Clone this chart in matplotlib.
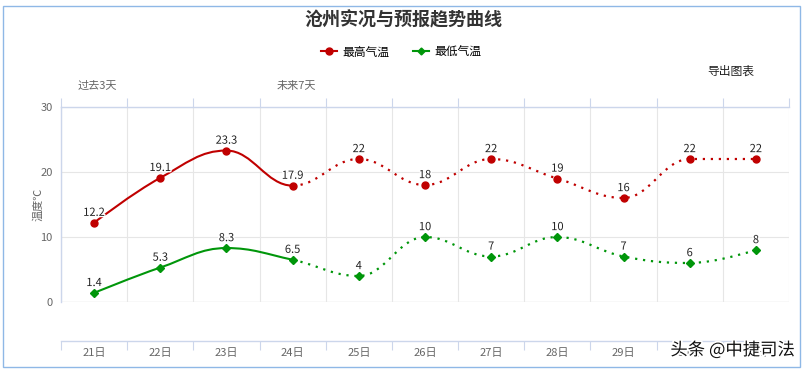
import matplotlib
matplotlib.use("Agg")
import matplotlib.pyplot as plt
import matplotlib.transforms as mtransforms
from matplotlib.path import Path
from matplotlib.patches import PathPatch, Rectangle
from matplotlib.lines import Line2D
import matplotlib.patheffects as pe

plt.rcParams['font.family'] = ['Noto Sans CJK SC', 'DejaVu Sans']

days = ["21日", "22日", "23日", "24日", "25日", "26日", "27日", "28日", "29日", "30日", "31日"]
high_temp = [12.2, 19.1, 23.3, 17.9, 22, 18, 22, 19, 16, 22, 22]
low_temp = [1.4, 5.3, 8.3, 6.5, 4, 10, 7, 10, 7, 6, 8]
high_labels = ["12.2", "19.1", "23.3", "17.9", "22", "18", "22", "19", "16", "22", "22"]
low_labels = ["1.4", "5.3", "8.3", "6.5", "4", "10", "7", "10", "7", "6", "8"]
period_labels = ["过去3天", "未来7天"]
period_start = ["21日", "24日"]
today = "24日"   # observed up to here, forecast afterwards
y_ticks = [0, 10, 20, 30]

RED = "#c00000"
GREEN = "#00960a"
GREY = "#666666"
AXIS = "#ccd6eb"
GRID = "#e6e6e6"


def spline_controls(xs, ys):
    # control points the way Highcharts builds its spline
    n = len(xs)
    left = [(xs[i], ys[i]) for i in range(n)]
    right = [(xs[i], ys[i]) for i in range(n)]
    sm, den = 1.5, 2.5
    for i in range(1, n - 1):
        px, py = xs[i], ys[i]
        lx, ly = xs[i - 1], ys[i - 1]
        nx, ny = xs[i + 1], ys[i + 1]
        lcx, lcy = (sm * px + lx) / den, (sm * py + ly) / den
        rcx, rcy = (sm * px + nx) / den, (sm * py + ny) / den
        corr = 0
        if rcx != lcx:
            corr = (rcy - lcy) * (rcx - px) / (rcx - lcx) + py - rcy
        lcy += corr
        rcy += corr
        if lcy > ly and lcy > py:
            lcy = max(ly, py)
            rcy = 2 * py - lcy
        elif lcy < ly and lcy < py:
            lcy = min(ly, py)
            rcy = 2 * py - lcy
        if rcy > ny and rcy > py:
            rcy = max(ny, py)
            lcy = 2 * py - rcy
        elif rcy < ny and rcy < py:
            rcy = min(ny, py)
            lcy = 2 * py - rcy
        left[i] = (lcx, lcy)
        right[i] = (rcx, rcy)
    return left, right


def spline_part(xs, ys, i0, i1):
    left, right = spline_controls(xs, ys)
    verts = [(xs[i0], ys[i0])]
    codes = [Path.MOVETO]
    for i in range(i0 + 1, i1 + 1):
        verts += [right[i - 1], left[i], (xs[i], ys[i])]
        codes += [Path.CURVE4] * 3
    return Path(verts, codes)


fig = plt.figure(figsize=(8.07, 3.71), dpi=100)
ax = fig.add_axes([61 / 807, 1 - 302 / 371, 728 / 807, 195 / 371])

xs = list(range(len(days)))
split = days.index(today)

for vals, lbls, col, mk, ms in [(high_temp, high_labels, RED, "o", 5),
                                (low_temp, low_labels, GREEN, "D", 4)]:
    solid = spline_part(xs, vals, 0, split)
    dotted = spline_part(xs, vals, split, len(xs) - 1)
    ax.add_patch(PathPatch(solid, fill=False, edgecolor=col, lw=1.5, zorder=3))
    ax.add_patch(PathPatch(dotted, fill=False, edgecolor=col, lw=1.6,
                           linestyle=(0, (1, 2.6)), zorder=3))
    ax.plot(xs, vals, ls="none", marker=mk, ms=ms, color=col, zorder=4, clip_on=False)
    for x, v, t in zip(xs, vals, lbls):
        ax.annotate(t, (x, v), xytext=(0, 3.5), textcoords="offset points",
                    ha="center", va="bottom", fontsize=8, color="#222222", zorder=5,
                    path_effects=[pe.withStroke(linewidth=2, foreground="white")])

ax.set_xlim(-0.5, len(days) - 0.5)
ax.set_ylim(0, 30)
ax.set_yticks(y_ticks)
ax.tick_params(axis="y", length=0, pad=6, labelsize=8, labelcolor=GREY)

# category boundaries get grid lines and ticks, centres get the labels
bounds = [i - 0.5 for i in range(len(days) + 1)]
ax.set_xticks(bounds)
ax.set_xticklabels([])
ax.set_xticks(xs, minor=True)
ax.set_xticklabels(days, minor=True)
ax.tick_params(axis="x", which="major", length=6.5, color=AXIS, top=True, bottom=True,
               direction="out")
ax.tick_params(axis="x", which="minor", length=0, pad=5, labelsize=8, labelcolor=GREY)
ax.grid(True, which="major", color=GRID, lw=0.8)

ax.spines["bottom"].set_position(("outward", 28))
for s in ["bottom", "top", "left"]:
    ax.spines[s].set_color(AXIS)
    ax.spines[s].set_linewidth(1)
ax.spines["right"].set_visible(False)
ax.axhline(0, color=GRID, lw=1, zorder=1)

ax.set_ylabel("温度℃", fontsize=8, color=GREY, va="center")
ax.yaxis.set_label_coords(-23 / 728, 0.5)

# period labels sit above the top ticks
above = ax.get_xaxis_transform() + mtransforms.ScaledTranslation(0, 16 / 100, fig.dpi_scale_trans)
for lab, start in zip(period_labels, period_start):
    ax.text(days.index(start) + 0.05, 1.0, lab, transform=above,
            ha="center", va="bottom", fontsize=8, color=GREY)

fig.text(403 / 807, 1 - 20 / 371, "沧州实况与预报趋势曲线", ha="center", va="center",
         fontsize=13, fontweight="bold", color="#333333")

handles = [Line2D([], [], color=RED, lw=1.5, marker="o", ms=5),
           Line2D([], [], color=GREEN, lw=1.5, marker="D", ms=3.5)]
fig.legend(handles, ["最高气温", "最低气温"], loc="center", ncol=2,
           bbox_to_anchor=(401 / 807, 1 - 52 / 371), frameon=False, fontsize=8.5,
           handlelength=1.4, handletextpad=0.4, columnspacing=2.0)

fig.text(731 / 807, 1 - 71 / 371, "导出图表", ha="center", va="center",
         fontsize=8.5, color="#222222")

# watermark covering the last two day labels, as in the source image
fig.text(795 / 807, 21 / 371, "头条 @中捷司法", ha="right", va="center", fontsize=12.5,
         color="#111111", zorder=10,
         path_effects=[pe.withStroke(linewidth=2.5, foreground="white")])

fig.patches.append(Rectangle((3 / 807, 1 - 367 / 371), 797 / 807, 361 / 371,
                             transform=fig.transFigure, fill=False,
                             edgecolor="#8fb8e6", lw=1))

fig.savefig("out.png", dpi=100)
